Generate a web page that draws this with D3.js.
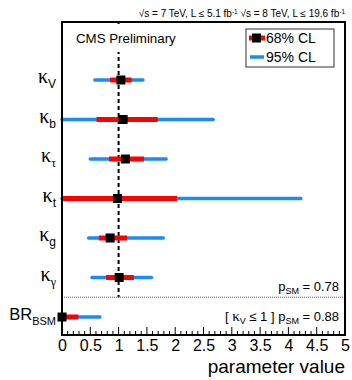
<!DOCTYPE html>
<html>
<head>
<meta charset="utf-8">
<script src="https://cdn.jsdelivr.net/npm/d3@7"></script>
<style>
  html, body { margin: 0; padding: 0; background: #fff; }
  svg { display: block; }
</style>
</head>
<body>
<svg id="chart" width="352" height="380"></svg>
<script>
// Coupling fit results: best fit with 68% and 95% CL intervals
const params   = ["kV", "kb", "ktau", "kt", "kg", "kgamma", "BRBSM"];
const symbols  = ["V", "b", "τ", "t", "g", "γ", "BSM"];
const bestFit  = [1.04, 1.08, 1.12, 0.98, 0.85, 1.01, 0.0];
const cl68Low  = [0.85, 0.61, 0.83, 0.00, 0.65, 0.78, 0.00];
const cl68High = [1.23, 1.69, 1.45, 2.03, 1.15, 1.27, 0.29];
const cl95Low  = [0.58, 0.00, 0.50, 0.00, 0.47, 0.53, 0.00];
const cl95High = [1.43, 2.67, 1.84, 4.22, 1.79, 1.58, 0.67];
const xTicks   = [0, 0.5, 1, 1.5, 2, 2.5, 3, 3.5, 4, 4.5, 5];
const xTickLabels = ["0", "0.5", "1", "1.5", "2", "2.5", "3", "3.5", "4", "4.5", "5"];

const RED = "#ff0000", BLUE = "#1a8cf5";
const svg = d3.select("#chart");
const frame = {left: 62, right: 345, top: 22, bottom: 335};

const x = d3.scaleLinear().domain([0, 5]).range([frame.left, frame.right]);
const y = d3.scalePoint().domain(params).range([80, 317]);
const sepY = (y("kgamma") + y("BRBSM")) / 2;

const sans = "'Liberation Sans', Arial, sans-serif";
const serif = "'Liberation Serif', 'DejaVu Serif', serif";

// header
svg.append("text").attr("x", frame.right).attr("y", 17).attr("text-anchor", "end")
  .attr("font-family", sans).attr("font-size", 10).attr("fill", "#000")
  .html('<tspan>√s = 7 TeV, L ≤ 5.1 fb</tspan><tspan dy="-3" font-size="6.5">-1</tspan><tspan dy="3">  √s = 8 TeV, L ≤ 19.6 fb</tspan><tspan dy="-3" font-size="6.5">-1</tspan>');

// dashed SM line at 1
svg.append("line").attr("x1", x(1)).attr("x2", x(1)).attr("y1", frame.top).attr("y2", sepY)
  .attr("stroke", "#000").attr("stroke-width", 2).attr("stroke-dasharray", "4,3");

// separator
svg.append("line").attr("x1", frame.left).attr("x2", frame.right).attr("y1", sepY).attr("y2", sepY)
  .attr("stroke", "#555").attr("stroke-width", 1).attr("stroke-dasharray", "1,1");

const rows = params.map((p, i) => ({p, sym: symbols[i], best: bestFit[i],
  l68: cl68Low[i], h68: cl68High[i], l95: cl95Low[i], h95: cl95High[i]}));

const g = svg.append("g");
g.selectAll(".c95").data(rows).join("line")
  .attr("x1", d => x(d.l95)).attr("x2", d => x(d.h95))
  .attr("y1", d => y(d.p)).attr("y2", d => y(d.p))
  .attr("stroke", BLUE).attr("stroke-width", 3.5).attr("stroke-linecap", "round");
g.selectAll(".c68").data(rows).join("line")
  .attr("x1", d => x(d.l68)).attr("x2", d => x(d.h68))
  .attr("y1", d => y(d.p)).attr("y2", d => y(d.p))
  .attr("stroke", RED).attr("stroke-width", 5);
g.selectAll(".bf").data(rows).join("rect")
  .attr("x", d => x(d.best) - 4.5).attr("y", d => y(d.p) - 4.5)
  .attr("width", 9).attr("height", 9).attr("fill", "#000");

// CMS label on a white pad
svg.append("rect").attr("x", 70).attr("y", 24).attr("width", 112).attr("height", 28).attr("fill", "#fff");
svg.append("text").attr("x", 76).attr("y", 43).attr("font-family", sans).attr("font-size", 13.3)
  .attr("fill", "#000").text("CMS Preliminary");

// frame
svg.append("rect").attr("x", frame.left).attr("y", frame.top)
  .attr("width", frame.right - frame.left).attr("height", frame.bottom - frame.top)
  .attr("fill", "none").attr("stroke", "#000").attr("stroke-width", 2);

// x axis ticks (inward)
const minor = d3.range(0, 5.0001, 0.1);
svg.append("g").selectAll("line").data(minor).join("line")
  .attr("x1", d => x(d)).attr("x2", d => x(d))
  .attr("y1", frame.bottom).attr("y2", d => frame.bottom - (Math.abs(d * 2 - Math.round(d * 2)) < 1e-6 ? 8 : 4))
  .attr("stroke", "#000").attr("stroke-width", 1);

const xAxis = d3.axisBottom(x).tickValues(xTicks).tickFormat((d, i) => xTickLabels[i]).tickSize(0).tickPadding(5);
const ax = svg.append("g").attr("transform", `translate(0,${frame.bottom})`).call(xAxis);
ax.select(".domain").remove();
ax.selectAll("text").attr("font-family", sans).attr("font-size", 16).attr("fill", "#000");

svg.append("text").attr("x", frame.right).attr("y", 373).attr("text-anchor", "end")
  .attr("font-family", sans).attr("font-size", 19).attr("fill", "#000").text("parameter value");

// y labels
rows.forEach(d => {
  const t = svg.append("text").attr("x", 56).attr("y", y(d.p) + 3).attr("text-anchor", "end").attr("fill", "#000");
  if (d.p === "BRBSM") {
    t.attr("font-family", sans).attr("font-size", 16.5);
    t.append("tspan").text("BR");
    t.append("tspan").attr("font-size", 11).attr("dy", 5).text(d.sym);
  } else {
    t.attr("font-family", serif).attr("font-size", 20);
    t.append("tspan").text("κ");
    const s = t.append("tspan").attr("dy", 5).attr("font-size", 12).text(d.sym);
    s.attr("font-family", /[τγ]/.test(d.sym) ? serif : sans);
  }
});

// legend
const lg = svg.append("g");
lg.append("rect").attr("x", 246).attr("y", 29).attr("width", 88).attr("height", 38)
  .attr("fill", "#fff").attr("stroke", "#333").attr("stroke-width", 1);
lg.append("line").attr("x1", 249).attr("x2", 265).attr("y1", 38).attr("y2", 38).attr("stroke", RED).attr("stroke-width", 5);
lg.append("rect").attr("x", 252).attr("y", 33.5).attr("width", 9).attr("height", 9).attr("fill", "#000");
lg.append("line").attr("x1", 250).attr("x2", 264).attr("y1", 57).attr("y2", 57).attr("stroke", BLUE).attr("stroke-width", 3.5);
lg.append("text").attr("x", 266).attr("y", 43).attr("font-family", sans).attr("font-size", 14).text("68% CL");
lg.append("text").attr("x", 266).attr("y", 62).attr("font-family", sans).attr("font-size", 14).text("95% CL");

// p-values
svg.append("text").attr("x", 339).attr("y", 291).attr("text-anchor", "end")
  .attr("font-family", sans).attr("font-size", 13).attr("fill", "#000")
  .html('<tspan>p</tspan><tspan dy="3" font-size="9">SM</tspan><tspan dy="-3"> = 0.78</tspan>');
svg.append("text").attr("x", 339).attr("y", 321).attr("text-anchor", "end")
  .attr("font-family", sans).attr("font-size", 13).attr("fill", "#000")
  .html('<tspan>[ </tspan><tspan font-family="Liberation Serif, serif" font-size="15">κ</tspan><tspan dy="3" font-size="9">V</tspan><tspan dy="-3"> ≤ 1 ]  p</tspan><tspan dy="3" font-size="9">SM</tspan><tspan dy="-3"> = 0.88</tspan>');
</script>
</body>
</html>
